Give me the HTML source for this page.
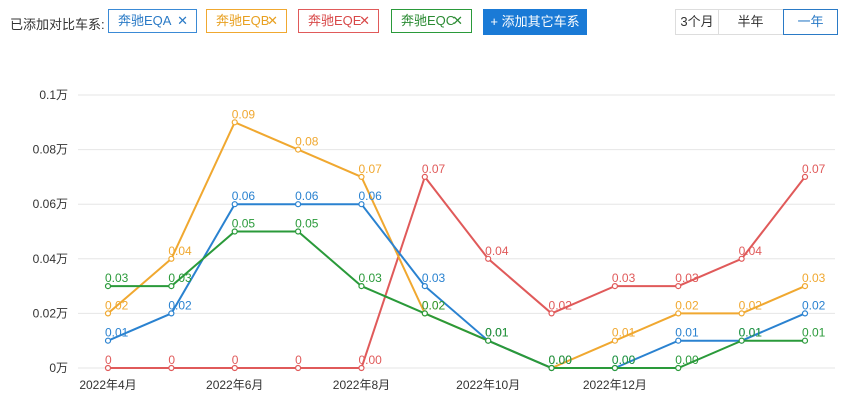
<!DOCTYPE html>
<html><head><meta charset="utf-8"><style>
body{margin:0;width:852px;height:408px;background:#fff;font-family:"Liberation Sans","Noto Sans CJK SC",sans-serif;overflow:hidden;position:relative}
.lbl{position:absolute;left:10px;top:14px;font-size:13px;color:#333}
.tag{position:absolute;top:9px;height:24px;border:1px solid;box-sizing:border-box;font-size:13px;line-height:22px;padding-left:9px;background:#fff}
.tag span{position:absolute;right:8px;font-size:13px}
.add{position:absolute;left:483px;top:9px;width:104px;height:26px;background:#1a7ad6;color:#fff;font-size:13px;line-height:26px;text-align:center}
.seg{position:absolute;top:9px;height:26px;border:1px solid #ddd;box-sizing:border-box;font-size:13px;line-height:24px;text-align:center;color:#333}
</style></head><body>
<div class="lbl">已添加对比车系:</div>
<div class="tag" style="left:108px;width:89px;border-color:#3a8ad6;color:#2a7ac6">奔驰EQA<span>✕</span></div>
<div class="tag" style="left:206px;width:81px;border-color:#f0a830;color:#e8a020">奔驰EQB<span>✕</span></div>
<div class="tag" style="left:298px;width:81px;border-color:#e05a5a;color:#d84848">奔驰EQE<span>✕</span></div>
<div class="tag" style="left:391px;width:81px;border-color:#2a9a3a;color:#2a8a32">奔驰EQC<span>✕</span></div>
<div class="add">+ 添加其它车系</div>
<div class="seg" style="left:675px;width:44px">3个月</div>
<div class="seg" style="left:718px;width:66px;border-left:none">半年</div>
<div class="seg" style="left:783px;width:55px;border-color:#2a7ac6;color:#2a7ac6">一年</div>
<svg id="chart" width="852" height="408" style="position:absolute;left:0;top:0"></svg>
<script>
const months=["2022年4月","2022年5月","2022年6月","2022年7月","2022年8月","2022年9月","2022年10月","2022年11月","2022年12月","2023年1月","2023年2月","2023年3月"];
const xTickLabels=["2022年4月","","2022年6月","","2022年8月","","2022年10月","","2022年12月","","",""];
const yTicks=[0,0.02,0.04,0.06,0.08,0.1];
const yTickLabels=["0万","0.02万","0.04万","0.06万","0.08万","0.1万"];
const eqe=[0,0,0,0,0,0.07,0.04,0.02,0.03,0.03,0.04,0.07];
const eqeLabels=["0","0","0","0","0.00","0.07","0.04","0.02","0.03","0.03","0.04","0.07"];
const eqb=[0.02,0.04,0.09,0.08,0.07,0.02,0.01,0,0.01,0.02,0.02,0.03];
const eqbLabels=["0.02","0.04","0.09","0.08","0.07","0.02","0.01","0.00","0.01","0.02","0.02","0.03"];
const eqa=[0.01,0.02,0.06,0.06,0.06,0.03,0.01,0,0,0.01,0.01,0.02];
const eqaLabels=["0.01","0.02","0.06","0.06","0.06","0.03","0.01","0.00","0.00","0.01","0.01","0.02"];
const eqc=[0.03,0.03,0.05,0.05,0.03,0.02,0.01,0,0,0,0.01,0.01];
const eqcLabels=["0.03","0.03","0.05","0.05","0.03","0.02","0.01","0.00","0.00","0.00","0.01","0.01"];
const svg=document.getElementById('chart');const NS="http://www.w3.org/2000/svg";
const x=i=>108+i*63.3636;const y=v=>368-v*2730;
function mk(t,a,p){const e=document.createElementNS(NS,t);for(const k in a)e.setAttribute(k,a[k]);(p||svg).appendChild(e);return e;}
yTicks.forEach((t,i)=>{const l=mk('line',{x1:78,x2:835,y1:y(t),y2:y(t),stroke:'#e6e6e6'});


const tx=mk('text',{x:68,y:y(t)+4,'text-anchor':'end','font-size':12,fill:'#333'});tx.textContent=yTickLabels[i];

});
months.forEach((m,i)=>{if(!xTickLabels[i])return;const tx=mk('text',{x:x(i),y:389,'text-anchor':'middle','font-size':12,fill:'#333'});tx.textContent=xTickLabels[i];

});
const series=[[eqe,eqeLabels,'#e05a5a','eqe'],[eqb,eqbLabels,'#f0a830','eqb'],[eqa,eqaLabels,'#2a82d0','eqa'],[eqc,eqcLabels,'#2a9a3a','eqc']];
series.forEach(([d,lb,c,n])=>{const g=mk('g',{});


const pl=mk('polyline',{points:d.map((v,i)=>x(i)+','+y(v)).join(' '),fill:'none',stroke:c,'stroke-width':2},g);


d.forEach((v,i)=>{const ci=mk('circle',{cx:x(i),cy:y(v),r:2.5,fill:'#fff',stroke:c,'stroke-width':1.2},g);


const t=mk('text',{x:x(i)-3,y:y(v)-4,'font-size':12,fill:c},g);t.textContent=lb[i];

});});
</script>
</body></html>
